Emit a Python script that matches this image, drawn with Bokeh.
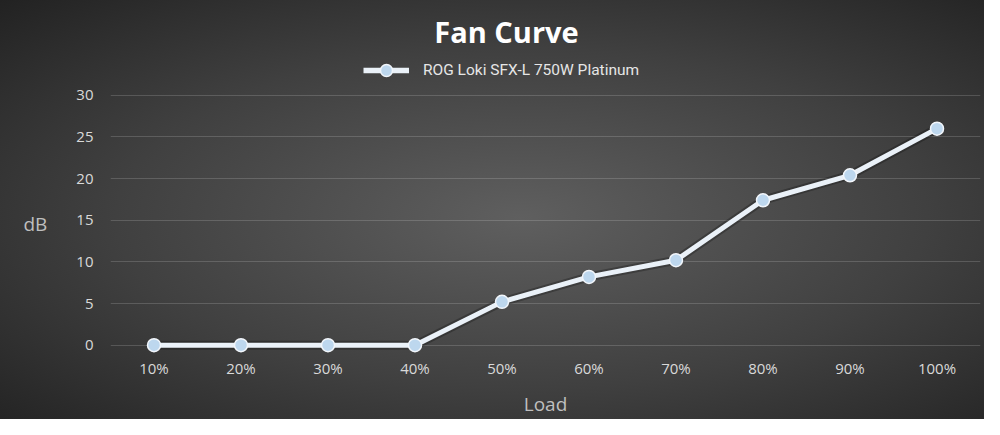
import numpy as np
from bokeh.plotting import figure
from bokeh.layouts import column
from bokeh.models import (FactorRange, Range1d, FixedTicker, Legend, LegendItem,
                          ColumnDataSource, Label)
from bokeh.embed import file_html
from bokeh.resources import INLINE

loads = ["10%", "20%", "30%", "40%", "50%", "60%", "70%", "80%", "90%", "100%"]
db_values = [0, 0, 0, 0, 5.2, 8.2, 10.2, 17.4, 20.4, 26.0]
y_ticks = [0, 5, 10, 15, 20, 25, 30]
series_name = "ROG Loki SFX-L 750W Platinum"
chart_title = "Fan Curve"

LINE_COLOR = "#eaf1f8"
MARKER_FILL = "#bdd7ee"
MARKER_LINE = "#f2f6fb"

# ---------- header (title + legend); its frame is aligned with the chart frame ----------
top = figure(width=984, height=80, x_range=Range1d(110, 980), y_range=Range1d(0, 80),
             output_backend="svg", toolbar_location=None,
             min_border_left=110, min_border_right=4, min_border_top=0, min_border_bottom=0)
top.axis.visible = False
top.grid.visible = False
top.outline_line_color = None
top.border_fill_alpha = 0
top.background_fill_alpha = 0

top.add_layout(Label(x=506, y=49, text=chart_title, text_align="center", text_baseline="middle",
                     text_color="#ffffff", text_font="Open Sans", text_font_style="bold",
                     text_font_size="29px"))

# placeholder renderers (no visible marks) that only provide the legend swatch
swatch = ColumnDataSource(data=dict(x=np.array([np.nan]), y=np.array([np.nan])))
lg_line = top.line("x", "y", source=swatch, line_color=LINE_COLOR, line_width=5.5)
lg_mark = top.scatter("x", "y", source=swatch, size=13, fill_color=MARKER_FILL,
                      line_color=MARKER_LINE, line_width=1.5)
legend = Legend(items=[LegendItem(label=series_name, renderers=[lg_line, lg_mark])],
                location=(253, -5), orientation="horizontal")
legend.background_fill_alpha = 0
legend.border_line_color = None
legend.padding = 0
legend.margin = 0
legend.glyph_width = 46
legend.glyph_height = 30
legend.label_standoff = 14
legend.label_text_color = "#e6e6e6"
legend.label_text_font = "Roboto"
legend.label_text_font_size = "15.5px"
top.add_layout(legend, "center")

# ---------- chart ----------
src = ColumnDataSource(data=dict(x=loads, y=db_values))

p = figure(
    width=984, height=339,
    x_range=FactorRange(*loads, range_padding=0),
    y_range=Range1d(-1, 30.1),
    output_backend="svg", toolbar_location=None,
    min_border_left=110, min_border_right=4,
    min_border_top=14, min_border_bottom=65,
)
p.border_fill_alpha = 0
p.background_fill_alpha = 0
p.outline_line_color = None

p.xgrid.grid_line_color = None
p.ygrid.grid_line_color = "#ffffff"
p.ygrid.grid_line_alpha = 0.16
p.ygrid.grid_line_width = 1
p.yaxis.ticker = FixedTicker(ticks=y_ticks)

for ax in (p.xaxis[0], p.yaxis[0]):
    ax.axis_line_color = None
    ax.major_tick_line_color = None
    ax.minor_tick_line_color = None
    ax.major_tick_out = 0
    ax.major_tick_in = 0
    ax.minor_tick_out = 0
    ax.minor_tick_in = 0
    ax.major_label_text_color = "#d9d9d9"
    ax.major_label_text_font = "Open Sans"
    ax.major_label_text_font_size = "15px"
    ax.axis_label_text_color = "#bfbfbf"
    ax.axis_label_text_font = "Open Sans"
    ax.axis_label_text_font_style = "normal"
    ax.axis_label_text_font_size = "19px"

p.xaxis.axis_label = "Load"
p.xaxis.major_label_standoff = 4
p.xaxis.axis_label_standoff = 10
p.yaxis.axis_label = "dB"
p.yaxis.axis_label_orientation = "horizontal"
p.yaxis.axis_label_text_baseline = "alphabetic"
p.yaxis.major_label_standoff = 17
p.yaxis.axis_label_standoff = 26

p.line("x", "y", source=src, line_color="#000000", line_alpha=0.25, line_width=9)
p.line("x", "y", source=src, line_color=LINE_COLOR, line_width=5)
p.scatter("x", "y", source=src, size=13, fill_color=MARKER_FILL,
          line_color=MARKER_LINE, line_width=1.5)

layout = column(top, p, spacing=0)
layout.styles = {"background-image": "radial-gradient(ellipse farthest-corner at 53% 52%, #5f5f5f 0%, #404040 55%, #222222 100%)"}

open("out.html", "w").write(file_html(layout, INLINE))
